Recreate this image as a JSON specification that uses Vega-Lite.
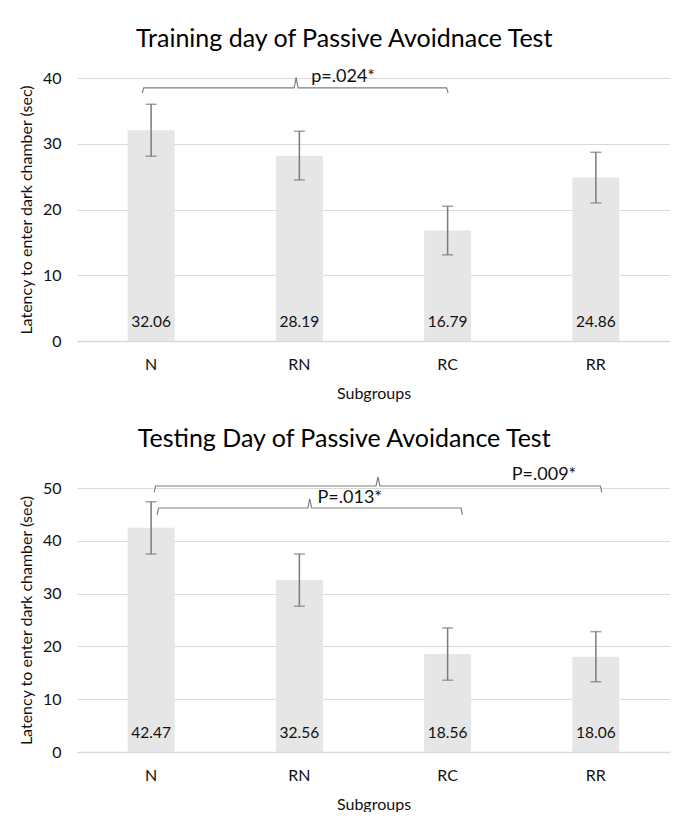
{
  "$schema": "https://vega.github.io/schema/vega-lite/v6.json",
  "background": "white",
  "padding": {"left": 18, "top": 27, "right": 0, "bottom": 0},
  "config": {
    "font": "Lato",
    "view": {"stroke": null},
    "concat": {"spacing": 26},
    "axisX": {"domainColor": "#d9d9d9", "domainWidth": 1.5, "ticks": false, "grid": false, "labelFontSize": 16, "labelPadding": 15, "labelAngle": 0, "labelColor": "#111111", "titleFontSize": 16, "titleFontWeight": "normal", "titlePadding": 13, "titleColor": "#111111"},
    "axisY": {"domain": false, "ticks": false, "grid": true, "gridColor": "#d9d9d9", "gridWidth": 1, "labelFontSize": 16, "labelPadding": 16, "labelColor": "#111111", "titleFontSize": 16, "titleFontWeight": "normal", "titleColor": "#111111", "titlePadding": 8},
    "title": {"fontSize": 25, "fontWeight": "normal", "color": "#000000", "frame": "bounds", "anchor": "middle", "offset": 16}
  },
  "datasets": {
    "train": [
      {"group": "N", "mean": 32.06, "lo": 28.1, "hi": 36.0},
      {"group": "RN", "mean": 28.19, "lo": 24.5, "hi": 31.9},
      {"group": "RC", "mean": 16.79, "lo": 13.1, "hi": 20.5},
      {"group": "RR", "mean": 24.86, "lo": 21.0, "hi": 28.7}
    ],
    "test": [
      {"group": "N", "mean": 42.47, "lo": 37.5, "hi": 47.4},
      {"group": "RN", "mean": 32.56, "lo": 27.6, "hi": 37.5},
      {"group": "RC", "mean": 18.56, "lo": 13.6, "hi": 23.5},
      {"group": "RR", "mean": 18.06, "lo": 13.3, "hi": 22.8}
    ],
    "trainBracket": [
      {"bracket": "a", "k": 1, "bx": -0.06, "by": 37.7},
      {"bracket": "a", "k": 2, "bx": -0.05, "by": 38.5},
      {"bracket": "a", "k": 3, "bx": 0.965, "by": 38.5},
      {"bracket": "a", "k": 4, "bx": 0.978, "by": 40.1},
      {"bracket": "a", "k": 5, "bx": 0.991, "by": 38.5},
      {"bracket": "a", "k": 6, "bx": 1.993, "by": 38.5},
      {"bracket": "a", "k": 7, "bx": 2.003, "by": 37.7}
    ],
    "trainLabel": [
      {"label": "p=.024*", "bx": 1.295, "by": 40.1}
    ],
    "testBracket": [
      {"bracket": "big", "k": 1, "bx": 0.02, "by": 49.15},
      {"bracket": "big", "k": 2, "bx": 0.03, "by": 50.38},
      {"bracket": "big", "k": 3, "bx": 1.517, "by": 50.38},
      {"bracket": "big", "k": 4, "bx": 1.53, "by": 52.1},
      {"bracket": "big", "k": 5, "bx": 1.543, "by": 50.38},
      {"bracket": "big", "k": 6, "bx": 3.03, "by": 50.38},
      {"bracket": "big", "k": 7, "bx": 3.04, "by": 49.15},
      {"bracket": "small", "k": 1, "bx": 0.04, "by": 44.89},
      {"bracket": "small", "k": 2, "bx": 0.05, "by": 46.21},
      {"bracket": "small", "k": 3, "bx": 1.057, "by": 46.21},
      {"bracket": "small", "k": 4, "bx": 1.07, "by": 47.92},
      {"bracket": "small", "k": 5, "bx": 1.083, "by": 46.21},
      {"bracket": "small", "k": 6, "bx": 2.09, "by": 46.21},
      {"bracket": "small", "k": 7, "bx": 2.1, "by": 44.89}
    ],
    "testLabel": [
      {"label": "P=.009*", "bx": 2.65, "by": 52.46},
      {"label": "P=.013*", "bx": 1.34, "by": 48.1}
    ]
  },
  "vconcat": [
    {
      "width": 593,
      "height": 263,
      "title": {"text": "Training day of Passive Avoidnace Test"},
      "layer": [
        {
          "layer": [
            {
              "data": {"name": "train"},
              "mark": {"type": "bar", "color": "#e7e6e6"},
              "encoding": {
                "x": {"field": "group", "type": "nominal", "sort": null, "scale": {"paddingInner": 0.683, "paddingOuter": 0.3415}, "axis": {"title": "Subgroups"}},
                "y": {"field": "mean", "type": "quantitative", "scale": {"domain": [0, 40]}, "title": "Latency to enter dark chamber (sec)", "axis": {"values": [0, 10, 20, 30, 40]}}
              }
            },
            {
              "data": {"name": "train"},
              "mark": {"type": "errorbar", "color": "#7a7a7a", "thickness": 1.5, "ticks": {"size": 11, "thickness": 1.5, "color": "#7a7a7a"}},
              "encoding": {
                "x": {"field": "group", "type": "nominal", "sort": null},
                "y": {"field": "lo", "type": "quantitative", "title": "Latency to enter dark chamber (sec)"},
                "y2": {"field": "hi"}
              }
            },
            {
              "data": {"name": "train"},
              "mark": {"type": "text", "fontSize": 15.5, "dy": -19, "color": "#111111"},
              "encoding": {
                "x": {"field": "group", "type": "nominal", "sort": null},
                "y": {"datum": 0},
                "text": {"field": "mean", "type": "quantitative", "format": ".2f"}
              }
            }
          ]
        },
        {
          "layer": [
            {
              "data": {"name": "trainBracket"},
              "mark": {"type": "line", "color": "#808080", "strokeWidth": 1.2, "clip": false},
              "encoding": {
                "x": {"field": "bx", "type": "quantitative", "scale": {"domain": [-0.5, 3.5], "nice": false, "zero": false}, "axis": null},
                "y": {"field": "by", "type": "quantitative"},
                "order": {"field": "k"},
                "detail": {"field": "bracket"}
              }
            },
            {
              "data": {"name": "trainLabel"},
              "mark": {"type": "text", "fontSize": 18, "color": "#111111", "clip": false},
              "encoding": {
                "x": {"field": "bx", "type": "quantitative"},
                "y": {"field": "by", "type": "quantitative"},
                "text": {"field": "label"}
              }
            }
          ]
        }
      ],
      "resolve": {"scale": {"x": "independent"}, "axis": {"x": "independent"}}
    },
    {
      "width": 593,
      "height": 264,
      "title": {"text": "Testing Day of Passive Avoidance Test", "offset": 14},
      "layer": [
        {
          "layer": [
            {
              "data": {"name": "test"},
              "mark": {"type": "bar", "color": "#e7e6e6"},
              "encoding": {
                "x": {"field": "group", "type": "nominal", "sort": null, "scale": {"paddingInner": 0.683, "paddingOuter": 0.3415}, "axis": {"title": "Subgroups"}},
                "y": {"field": "mean", "type": "quantitative", "scale": {"domain": [0, 50]}, "title": "Latency to enter dark chamber (sec)", "axis": {"values": [0, 10, 20, 30, 40, 50]}}
              }
            },
            {
              "data": {"name": "test"},
              "mark": {"type": "errorbar", "color": "#7a7a7a", "thickness": 1.5, "ticks": {"size": 11, "thickness": 1.5, "color": "#7a7a7a"}},
              "encoding": {
                "x": {"field": "group", "type": "nominal", "sort": null},
                "y": {"field": "lo", "type": "quantitative", "title": "Latency to enter dark chamber (sec)"},
                "y2": {"field": "hi"}
              }
            },
            {
              "data": {"name": "test"},
              "mark": {"type": "text", "fontSize": 15.5, "dy": -19, "color": "#111111"},
              "encoding": {
                "x": {"field": "group", "type": "nominal", "sort": null},
                "y": {"datum": 0},
                "text": {"field": "mean", "type": "quantitative", "format": ".2f"}
              }
            }
          ]
        },
        {
          "layer": [
            {
              "data": {"name": "testBracket"},
              "mark": {"type": "line", "color": "#808080", "strokeWidth": 1.2, "clip": false},
              "encoding": {
                "x": {"field": "bx", "type": "quantitative", "scale": {"domain": [-0.5, 3.5], "nice": false, "zero": false}, "axis": null},
                "y": {"field": "by", "type": "quantitative"},
                "order": {"field": "k"},
                "detail": {"field": "bracket"}
              }
            },
            {
              "data": {"name": "testLabel"},
              "mark": {"type": "text", "fontSize": 18, "color": "#111111", "clip": false},
              "encoding": {
                "x": {"field": "bx", "type": "quantitative"},
                "y": {"field": "by", "type": "quantitative"},
                "text": {"field": "label"}
              }
            }
          ]
        }
      ],
      "resolve": {"scale": {"x": "independent"}, "axis": {"x": "independent"}}
    }
  ]
}
